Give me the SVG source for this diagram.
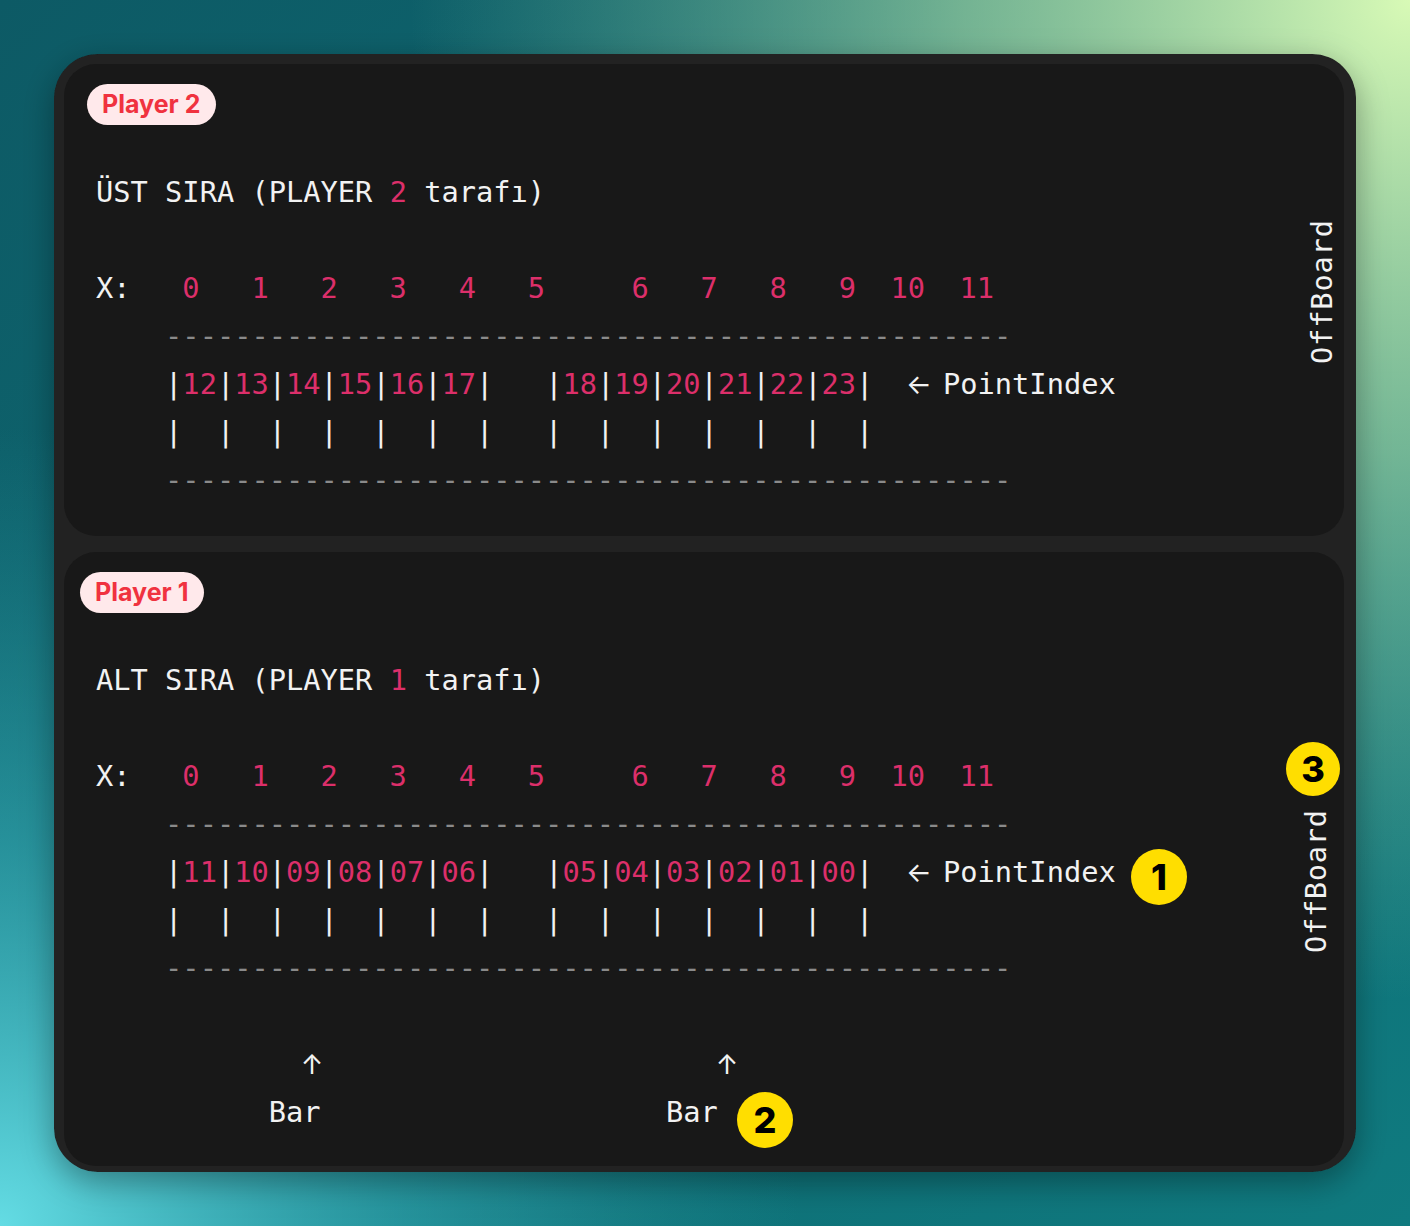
<svg xmlns="http://www.w3.org/2000/svg" width="1410" height="1226" viewBox="0 0 1410 1226">
<defs>
<linearGradient id="bg" x1="0" y1="0" x2="1" y2="1">
<stop offset="0" stop-color="#0d5a65"/>
<stop offset="1" stop-color="#0f7a7f"/>
</linearGradient>
<radialGradient id="tr" cx="1410" cy="0" r="1000" gradientUnits="userSpaceOnUse">
<stop offset="0" stop-color="#d8fab6" stop-opacity="1"/>
<stop offset="0.45" stop-color="#a9dca6" stop-opacity="0.65"/>
<stop offset="1" stop-color="#7fc4a0" stop-opacity="0"/>
</radialGradient>
<radialGradient id="bl" cx="0" cy="1226" r="800" gradientUnits="userSpaceOnUse">
<stop offset="0" stop-color="#64dce4" stop-opacity="1"/>
<stop offset="0.5" stop-color="#3cb8c2" stop-opacity="0.5"/>
<stop offset="1" stop-color="#2a9aa5" stop-opacity="0"/>
</radialGradient>
<filter id="sh" x="-10%" y="-10%" width="120%" height="120%">
<feDropShadow dx="0" dy="10" stdDeviation="16" flood-color="#000" flood-opacity="0.35"/>
</filter>
</defs>
<style>
.m{font-family:"DejaVu Sans Mono","Liberation Mono",monospace;font-size:28.7px;white-space:pre;fill:#f2f2f2}
.p{fill:#dc2f6a}
.g{fill:#8a8a8a}
.ar{font-family:Inter,"DejaVu Sans",sans-serif;font-size:27px;fill:#f2f2f2;text-anchor:middle}
.badge{fill:#ffe9eb}
.bt{font-family:Inter,"Noto Sans",sans-serif;font-weight:700;font-size:25px;fill:#f0323f}
.yc{fill:#ffde00}
.yt{font-family:Inter,"Noto Sans",sans-serif;font-weight:800;font-size:36px;fill:#000;text-anchor:middle}
.ob{font-family:"DejaVu Sans Mono","Liberation Mono",monospace;font-size:28.7px;fill:#f2f2f2}
</style>
<rect x="0" y="0" width="1410" height="1226" fill="url(#bg)"/>
<rect x="0" y="0" width="1410" height="1226" fill="url(#tr)"/>
<rect x="0" y="0" width="1410" height="1226" fill="url(#bl)"/>
<rect x="54" y="54" width="1302" height="1118" rx="44" fill="#202020" filter="url(#sh)"/>
<g id="panel-top">
<rect x="64" y="64" width="1280" height="472" rx="32" fill="#181818"/>
<rect class="badge" x="87" y="84" width="129" height="41" rx="20.5"/>
<text class="bt" x="102" y="113">Player 2</text>
<text class="m" x="96" y="202">ÜST SIRA (PLAYER <tspan class="p">2</tspan> tarafı)</text>
<text class="m" x="96" y="298">X:   <tspan class="p">0   1   2   3   4   5     6   7   8   9  10  11</tspan></text>
<text class="m g" x="96" y="346">    -------------------------------------------------</text>
<text class="m" x="96" y="394">    |<tspan class="p">12</tspan>|<tspan class="p">13</tspan>|<tspan class="p">14</tspan>|<tspan class="p">15</tspan>|<tspan class="p">16</tspan>|<tspan class="p">17</tspan>|   |<tspan class="p">18</tspan>|<tspan class="p">19</tspan>|<tspan class="p">20</tspan>|<tspan class="p">21</tspan>|<tspan class="p">22</tspan>|<tspan class="p">23</tspan>|</text>
<text class="ar" x="919" y="394">←</text>
<text class="m" x="943" y="394">PointIndex</text>
<text class="m" x="96" y="442">    |  |  |  |  |  |  |   |  |  |  |  |  |  |</text>
<text class="m g" x="96" y="490">    -------------------------------------------------</text>
<text class="ob" transform="translate(1332,364) rotate(-90)" textLength="144">OffBoard</text>
</g>
<g id="panel-bottom">
<rect x="64" y="552" width="1280" height="614" rx="32" fill="#181818"/>
<rect class="badge" x="80" y="572" width="124" height="41" rx="20.5"/>
<text class="bt" x="95" y="601">Player 1</text>
<text class="m" x="96" y="690">ALT SIRA (PLAYER <tspan class="p">1</tspan> tarafı)</text>
<text class="m" x="96" y="786">X:   <tspan class="p">0   1   2   3   4   5     6   7   8   9  10  11</tspan></text>
<text class="m g" x="96" y="834">    -------------------------------------------------</text>
<text class="m" x="96" y="882">    |<tspan class="p">11</tspan>|<tspan class="p">10</tspan>|<tspan class="p">09</tspan>|<tspan class="p">08</tspan>|<tspan class="p">07</tspan>|<tspan class="p">06</tspan>|   |<tspan class="p">05</tspan>|<tspan class="p">04</tspan>|<tspan class="p">03</tspan>|<tspan class="p">02</tspan>|<tspan class="p">01</tspan>|<tspan class="p">00</tspan>|</text>
<text class="ar" x="919" y="882">←</text>
<text class="m" x="943" y="882">PointIndex</text>
<text class="m" x="96" y="930">    |  |  |  |  |  |  |   |  |  |  |  |  |  |</text>
<text class="m g" x="96" y="978">    -------------------------------------------------</text>
<text class="ar" x="312" y="1074">↑</text>
<text class="ar" x="727" y="1074">↑</text>
<text class="m" x="96" y="1122">          Bar                    Bar</text>
<text class="ob" transform="translate(1326,953) rotate(-90)" textLength="143">OffBoard</text>
</g>
<g id="callout-1">
<circle class="yc" cx="1159" cy="877" r="28"/>
<text class="yt" x="1159" y="890">1</text>
</g>
<g id="callout-2">
<circle class="yc" cx="765" cy="1120" r="28"/>
<text class="yt" x="765" y="1133">2</text>
</g>
<g id="callout-3">
<circle class="yc" cx="1313" cy="769" r="27"/>
<text class="yt" x="1313" y="782">3</text>
</g>
<g id="connectors"/>
</svg>
